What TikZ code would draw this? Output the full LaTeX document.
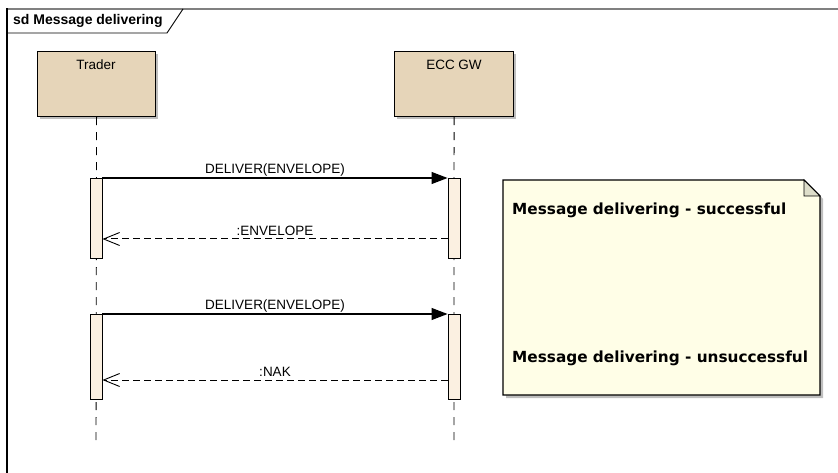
\documentclass[tikz,border=0pt]{standalone}
\usepackage{fontspec}
\setmainfont{Liberation Sans}
\newfontfamily\notefont{DejaVu Sans}
\usetikzlibrary{arrows.meta}
\definecolor{boxfill}{HTML}{E6D5B9}
\definecolor{barfill}{HTML}{FBF0E1}
\definecolor{notefill}{HTML}{FFFEE7}
\definecolor{foldfill}{HTML}{DEDECA}
\definecolor{shadowc}{HTML}{BEBEBE}
\definecolor{framegray}{HTML}{808080}
\tikzset{
  lifebox/.style={draw=black, line width=1.1pt, fill=boxfill, minimum width=118pt, minimum height=65pt, inner sep=0pt, anchor=north west},
  actbar/.style={draw=black, line width=0.9pt, fill=barfill, minimum width=12pt, inner sep=0pt, anchor=north},
  lifeline/.style={draw=black, line width=0.9pt, dash pattern=on 8pt off 7pt},
  callmsg/.style={draw=black, line width=1.1pt, -{Triangle[length=16pt,width=12pt]}},
  retmsg/.style={draw=black, line width=1pt, dash pattern=on 7pt off 4pt, -{Straight Barb[length=16pt,width=13pt,line width=0.9pt]}},
  msglabel/.style={font=\fontsize{13.5}{15}\selectfont, inner sep=0pt},
  notetext/.style={font=\notefont\bfseries\fontsize{15.3}{17}\selectfont, inner sep=0pt, anchor=west},
}
\begin{document}
\begin{tikzpicture}[x=1pt, y=-1pt]
\useasboundingbox (0,0) rectangle (838,473);
% frame
\draw[framegray, line width=1.5pt] (7,9) -- (838,9);
\draw[black, line width=1.1pt] (7,8.5) -- (7,473);
\draw[black, line width=0.9pt] (7,33) -- (167,33) -- (183,9);
\node[anchor=west, inner sep=0pt, font=\bfseries\fontsize{14}{16}\selectfont] (title) at (13,21) {sd Message delivering};
% shadows
\fill[shadowc] (40,54) rectangle (158,119);
\fill[shadowc] (397,54) rectangle (516,119);
% lifeline boxes
\node[lifebox] (trader) at (37,51) {};
\node[lifebox, minimum width=119pt] (ecc) at (394,51) {};
\node[msglabel] (tradert) at (96,65) {Trader};
\node[msglabel] (ecct) at (454,65) {ECC GW};
% lifeline ends
\coordinate (traderend) at (96,447);
\coordinate (eccend) at (454,447);
\draw[lifeline] (trader.south) -- (traderend);
\draw[lifeline] (ecc.south) -- (eccend);
% activation bars
\node[actbar, minimum height=80pt] (ta1) at (96,178) {};
\node[actbar, minimum height=80pt] (ea1) at (454,178) {};
\node[actbar, minimum height=85pt] (ta2) at (96,314) {};
\node[actbar, minimum height=85pt] (ea2) at (454,314) {};
% messages
\draw[callmsg] (ta1.north east) -- (ea1.north west);
\node[msglabel] (m1) at (275,170) {DELIVER(ENVELOPE)};
\draw[retmsg] (ea1.west |- 0,239) -- (ta1.east |- 0,239);
\node[msglabel] (r1) at (275,231) {:ENVELOPE};
\draw[callmsg] (ta2.north east) -- (ea2.north west);
\node[msglabel] (m2) at (275,306) {DELIVER(ENVELOPE)};
\draw[retmsg] (ea2.west |- 0,380) -- (ta2.east |- 0,380);
\node[msglabel] (r2) at (275,372) {:NAK};
% note
\fill[shadowc] (506,183) -- (807,183) -- (823,199) -- (823,398) -- (506,398) -- cycle;
\draw[black, line width=1.1pt, fill=notefill] (503,180) -- (804,180) -- (820,196) -- (820,395) -- (503,395) -- cycle;
\draw[black, line width=0.9pt, fill=foldfill] (804,180) -- (804,196) -- (820,196) -- cycle;
\node[notetext] (n1) at (512,210) {Message delivering - successful};
\node[notetext] (n2) at (512,358) {Message delivering - unsuccessful};
\end{tikzpicture}
\end{document}
